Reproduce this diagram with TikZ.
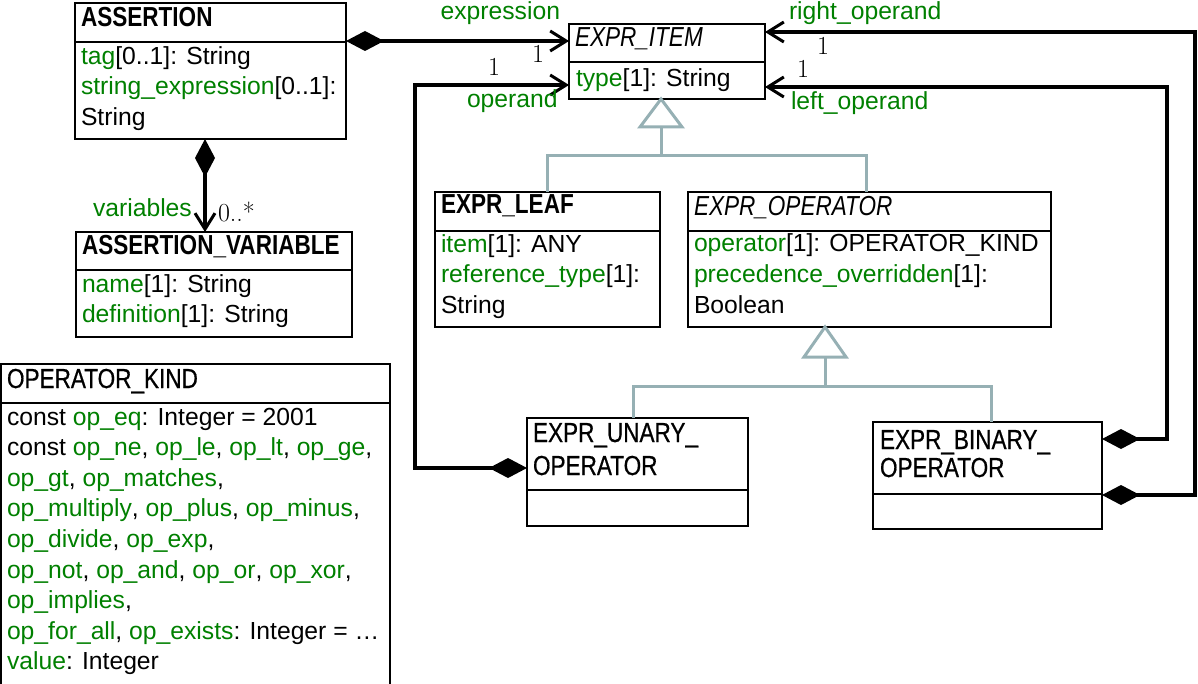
\documentclass[tikz,border=0pt]{standalone}
\usepackage{fontspec}
\setmainfont{Liberation Sans}
\newfontfamily\hdrfont[FakeStretch=0.82]{Liberation Sans}
\newfontfamily\hdrregfont[FakeStretch=0.82,FakeBold=0.6]{Liberation Sans}
\usetikzlibrary{arrows.meta}
\definecolor{umlgreen}{RGB}{0,128,0}
\definecolor{gengray}{RGB}{150,176,180}
\newcommand\grn[1]{\textcolor{umlgreen}{#1}}
\newfontfamily\multfont{Latin Modern Roman}
\begin{document}
\begin{tikzpicture}[x=1pt,y=-1pt,
  umlbox/.style={draw=black, line width=2pt, rectangle, inner sep=0pt, outer sep=0pt, anchor=north west},
  txt/.style={inner sep=0pt, outer sep=0pt, anchor=base west, font=\fontsize{24.7}{30}\selectfont},
  hdr/.style={inner sep=0pt, outer sep=0pt, anchor=base west, font=\hdrfont\fontsize{27.5}{30}\selectfont},
  hdrreg/.style={inner sep=0pt, outer sep=0pt, anchor=base west, font=\hdrregfont\fontsize{27.5}{30}\selectfont},
  lbl/.style={txt, text=umlgreen},
  mult/.style={inner sep=0pt, outer sep=0pt, font=\multfont\fontsize{26}{30}\selectfont},
  divider/.style={line width=2pt},
  assoc/.style={line width=4pt, {Diamond[length=38pt,width=20pt,line width=0pt]}-{Straight Barb[length=16pt,width=20pt,line width=3pt]}},
  gen/.style={draw=gengray, line width=3pt},
  gentri/.style={draw=gengray, line width=3pt, line join=miter, fill=white}
]
\useasboundingbox (0,0) rectangle (1198,684);
\begin{scope}
\clip (0,0) rectangle (1198,684);

% ---------- boxes ----------
\node[umlbox, minimum width=271pt, minimum height=136pt] (assertion) at (75,3) {};
\node[umlbox, minimum width=276pt, minimum height=105pt] (assertvar) at (76,232) {};
\node[umlbox, minimum width=389pt, minimum height=340pt] (opkind) at (1,364) {};
\node[umlbox, minimum width=196pt, minimum height=75pt] (item) at (569,24) {};
\node[umlbox, minimum width=225pt, minimum height=135pt] (leaf) at (435,192) {};
\node[umlbox, minimum width=363pt, minimum height=135pt] (operator) at (688,192) {};
\node[umlbox, minimum width=221pt, minimum height=108pt] (unary) at (527,418) {};
\node[umlbox, minimum width=229pt, minimum height=107pt] (binary) at (873,422) {};

% ---------- dividers ----------
\draw[divider] (assertion.north west |- 0,42) -- (assertion.north east |- 0,42);
\draw[divider] (assertvar.north west |- 0,270) -- (assertvar.north east |- 0,270);
\draw[divider] (opkind.north west |- 0,403) -- (opkind.north east |- 0,403);
\draw[divider] (item.north west |- 0,62) -- (item.north east |- 0,62);
\draw[divider] (leaf.north west |- 0,231) -- (leaf.north east |- 0,231);
\draw[divider] (operator.north west |- 0,231) -- (operator.north east |- 0,231);
\draw[divider] (unary.north west |- 0,490) -- (unary.north east |- 0,490);
\draw[divider] (binary.north west |- 0,494) -- (binary.north east |- 0,494);

% ---------- texts ----------
\node[hdr] (assertionT) at (81,27) {\bfseries ASSERTION};
\node[txt] (assertion1) at (81,65) {\grn{tag}[0..1]: String};
\node[txt] (assertion2) at (81,95) {\grn{string\_expression}[0..1]:};
\node[txt] (assertion3) at (81,126) {String};

\node[hdr] (assertvarT) at (82,255) {\bfseries ASSERTION\_VARIABLE};
\node[txt] (assertvar1) at (82,293) {\grn{name}[1]: String};
\node[txt] (assertvar2) at (82,323) {\grn{definition}[1]: String};

\node[hdrreg] (opkindT) at (7,388) {OPERATOR\_KIND};
\node[txt] (opk1) at (7,425) {const \grn{op\_eq}: Integer = 2001};
\node[txt] (opk2) at (7,455.6) {const \grn{op\_ne}, \grn{op\_le}, \grn{op\_lt}, \grn{op\_ge},};
\node[txt] (opk3) at (7,486.2) {\grn{op\_gt}, \grn{op\_matches},};
\node[txt] (opk4) at (7,516.8) {\grn{op\_multiply}, \grn{op\_plus}, \grn{op\_minus},};
\node[txt] (opk5) at (7,547.4) {\grn{op\_divide}, \grn{op\_exp},};
\node[txt] (opk6) at (7,578) {\grn{op\_not}, \grn{op\_and}, \grn{op\_or}, \grn{op\_xor},};
\node[txt] (opk7) at (7,608.6) {\grn{op\_implies},};
\node[txt] (opk8) at (7,639.2) {\grn{op\_for\_all}, \grn{op\_exists}: Integer = \ldots};
\node[txt] (opk9) at (7,669.8) {\grn{value}: Integer};

\node[hdr] (itemT) at (575,47) {\itshape EXPR\_ITEM};
\node[txt] (item1) at (576,87) {\grn{type}[1]: String};

\node[hdr] (leafT) at (441,214) {\bfseries EXPR\_LEAF};
\node[txt] (leaf1) at (441,253) {\grn{item}[1]: ANY};
\node[txt] (leaf2) at (441,283) {\grn{reference\_type}[1]:};
\node[txt] (leaf3) at (441,313) {String};

\node[hdr] (operatorT) at (694,216) {\itshape EXPR\_OPERATOR};
\node[txt] (operator1) at (694,252) {\grn{operator}[1]: OPERATOR\_KIND};
\node[txt] (operator2) at (694,283) {\grn{precedence\_overridden}[1]:};
\node[txt] (operator3) at (694,313) {Boolean};

\node[hdrreg] (unaryT1) at (533,442) {EXPR\_UNARY\_};
\node[hdrreg] (unaryT2) at (533,475) {OPERATOR};

\node[hdrreg] (binaryT1) at (880,449) {EXPR\_BINARY\_};
\node[hdrreg] (binaryT2) at (880,477) {OPERATOR};

% ---------- generalizations ----------
\coordinate (g1base) at (661,127);
\coordinate (g1bar) at (661,156);
\draw[gen] (g1base) -- (g1bar);
\draw[gen] (leaf.north west -| 547,0) |- (g1bar) -| (operator.north west -| 866,0);
\draw[gentri] (item.south -| 661,0) -- (682,127) -- (640,127) -- cycle;

\coordinate (g2base) at (825,357);
\coordinate (g2bar) at (825,386);
\draw[gen] (g2base) -- (g2bar);
\draw[gen] (unary.north west -| 633,0) |- (g2bar) -| (binary.north west -| 991,0);
\draw[gentri] (operator.south -| 825,0) -- (846,357) -- (804,357) -- cycle;

% ---------- associations ----------
\draw[assoc] ([yshift=-38pt]assertion.north east) -- ([yshift=-17pt]item.north west);
\draw[assoc] ([xshift=130pt]assertion.south west) -- ([xshift=129pt]assertvar.north west);
\coordinate (uc1) at (415,468);
\coordinate (uc2) at (415,85);
\draw[assoc, line join=miter] ([yshift=-50pt]unary.north west) -- (uc1) -- (uc2) -- ([yshift=-61pt]item.north west);
\coordinate (bc1) at (1167,439);
\coordinate (bc2) at (1167,87);
\draw[assoc, line join=miter] ([yshift=-17pt]binary.north east) -- (bc1) -- (bc2) -- ([yshift=-63pt]item.north east);
\coordinate (bc3) at (1195,495);
\coordinate (bc4) at (1195,32);
\draw[assoc, line join=miter] ([yshift=-73pt]binary.north east) -- (bc3) -- (bc4) -- ([yshift=-8pt]item.north east);

% ---------- association labels ----------
\node[lbl, anchor=base east] (lexpr) at (560,20) {expression};
\node[lbl] (loperand) at (467,108) {operand};
\node[lbl] (lright) at (789,20) {right\_operand};
\node[lbl] (lleft) at (791,110) {left\_operand};
\node[lbl] (lvars) at (93,217) {variables};
\node[mult, anchor=base west] (mvars) at (218,222) {0..*};
\node[mult] (mexpr) at (538,54) {1};
\node[mult] (moperand) at (494,67) {1};
\node[mult] (mright) at (823,46) {1};
\node[mult] (mleft) at (803,69) {1};
\end{scope}
\end{tikzpicture}
\end{document}
